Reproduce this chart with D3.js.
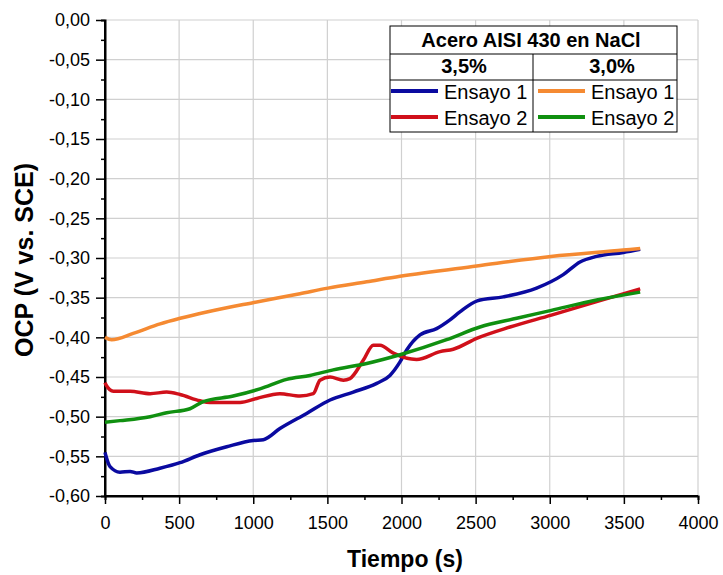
<!DOCTYPE html>
<html>
<head>
<meta charset="utf-8">
<script src="https://cdn.jsdelivr.net/npm/d3@7"></script>
<style>
  body { margin: 0; background: #fff; }
  svg { display: block; font-family: 'Liberation Sans', Arial, sans-serif; }
</style>
</head>
<body>
<div id="chart"></div>
<script>
// time (s) and OCP (V)
let blueT = [0, 7, 34, 101, 169, 214, 371, 506, 641, 821, 1000, 1068, 1180, 1360, 1518, 1675, 1833, 1922, 1990, 2035, 2125, 2237, 2327, 2394, 2511, 2686, 2911, 3091, 3204, 3316, 3496, 3610];
let blueV = [-0.545, -0.550, -0.563, -0.570, -0.569, -0.571, -0.565, -0.558, -0.548, -0.538, -0.530, -0.529, -0.515, -0.496, -0.479, -0.469, -0.458, -0.448, -0.431, -0.416, -0.397, -0.389, -0.378, -0.368, -0.354, -0.349, -0.338, -0.321, -0.305, -0.298, -0.293, -0.289];

let redT = [0, 7, 56, 169, 304, 416, 506, 641, 708, 911, 1023, 1180, 1315, 1405, 1450, 1518, 1608, 1652, 1742, 1810, 1855, 1945, 2102, 2260, 2349, 2511, 2732, 3011, 3316, 3610];
let redV = [-0.457, -0.460, -0.468, -0.468, -0.471, -0.469, -0.472, -0.480, -0.482, -0.482, -0.477, -0.471, -0.474, -0.471, -0.454, -0.450, -0.454, -0.452, -0.429, -0.410, -0.410, -0.420, -0.428, -0.418, -0.415, -0.401, -0.387, -0.372, -0.355, -0.339];

let orangeT = [0, 45, 190, 372, 507, 686, 1005, 1315, 1504, 1765, 1990, 2507, 3008, 3495, 3610];
let orangeV = [-0.400, -0.403, -0.395, -0.383, -0.376, -0.368, -0.356, -0.345, -0.338, -0.330, -0.323, -0.310, -0.298, -0.290, -0.288];

let greenT = [0, 101, 304, 416, 573, 663, 865, 1045, 1225, 1383, 1540, 1765, 1990, 2304, 2529, 2777, 3011, 3316, 3610];
let greenV = [-0.507, -0.505, -0.500, -0.495, -0.490, -0.481, -0.474, -0.465, -0.453, -0.448, -0.441, -0.433, -0.422, -0.403, -0.387, -0.376, -0.366, -0.353, -0.343];

let groups = ['3,5%', '3,0%'];
let seriesNames = ['Ensayo 1', 'Ensayo 2'];
let legendTitle = 'Acero AISI 430 en NaCl';

let series = [
  { t: blueT, v: blueV, color: '#0a0aa0', group: 0, row: 0 },
  { t: redT, v: redV, color: '#d0101a', group: 0, row: 1 },
  { t: orangeT, v: orangeV, color: '#f58a32', group: 1, row: 0 },
  { t: greenT, v: greenV, color: '#109010', group: 1, row: 1 }
];

let w = 723;
let h = 575;
let pLeft = 105, pTop = 20, pRight = 698, pBottom = 496;

let xScale = d3.scaleLinear().domain([0, 4000]).range([pLeft, pRight]);
let yScale = d3.scaleLinear().domain([-0.6, 0]).range([pBottom, pTop]);
let fmtY = (d) => d3.format('.2f')(d).replace('.', ',').replace('−', '-');

let svg = d3.select('#chart').append('svg').attr('width', w).attr('height', h);

// grid
svg.append('g').selectAll('line')
   .data(d3.range(500, 4001, 500))
   .enter().append('line')
   .attr('x1', (d) => xScale(d)).attr('x2', (d) => xScale(d))
   .attr('y1', pTop).attr('y2', pBottom)
   .attr('stroke', '#d0d0d0').attr('stroke-width', 1.2);
svg.append('g').selectAll('line')
   .data(d3.range(-11, 1).map((i) => i * 0.05))
   .enter().append('line')
   .attr('x1', pLeft).attr('x2', pRight)
   .attr('y1', (d) => yScale(d)).attr('y2', (d) => yScale(d))
   .attr('stroke', '#d0d0d0').attr('stroke-width', 1.2);

// minor ticks
let xMinor = d3.axisBottom(xScale).tickValues(d3.range(250, 4000, 500)).tickSize(4).tickFormat('');
let yMinor = d3.axisLeft(yScale).tickValues(d3.range(0, 12).map((i) => -0.025 - i * 0.05)).tickSize(4).tickFormat('');
svg.append('g').attr('transform', 'translate(0,' + pBottom + ')').call(xMinor);
svg.append('g').attr('transform', 'translate(' + pLeft + ',0)').call(yMinor);

let xAxis = d3.axisBottom(xScale).tickValues(d3.range(0, 4001, 500)).tickSize(8).tickPadding(12).tickFormat(d3.format('d'));
let yAxis = d3.axisLeft(yScale).tickValues(d3.range(-12, 1).map((i) => i * 0.05)).tickSize(9).tickPadding(6).tickFormat(fmtY);

let gx = svg.append('g').attr('transform', 'translate(0,' + pBottom + ')').call(xAxis);
let gy = svg.append('g').attr('transform', 'translate(' + pLeft + ',0)').call(yAxis);

svg.selectAll('.domain').attr('stroke', '#000').attr('stroke-width', 2);
svg.selectAll('.tick line').attr('stroke', '#000').attr('stroke-width', 1.5);
svg.selectAll('.tick text').attr('fill', '#000').style('font-size', '18px').style('font-family', "'Liberation Sans', Arial, sans-serif");
gx.select('.domain').attr('d', 'M' + pLeft + ',0H' + pRight);
gy.select('.domain').attr('d', 'M0,' + pBottom + 'V' + pTop);

// curves
let line = d3.line().curve(d3.curveMonotoneX);
svg.append('g').selectAll('path')
   .data(series)
   .enter().append('path')
   .attr('fill', 'none')
   .attr('stroke', (d) => d.color)
   .attr('stroke-width', 3.5)
   .attr('stroke-linejoin', 'round')
   .attr('d', (d) => line(d.t.map((t, i) => [xScale(t), yScale(d.v[i])])));

// axis titles
svg.append('text')
   .attr('x', 405).attr('y', 567)
   .attr('text-anchor', 'middle')
   .style('font-size', '23px').style('font-weight', 'bold')
   .text('Tiempo (s)');
svg.append('text')
   .attr('transform', 'translate(33,260) rotate(-90)')
   .attr('text-anchor', 'middle')
   .style('font-size', '25px').style('font-weight', 'bold')
   .text('OCP (V vs. SCE)');

// legend table
let lg = svg.append('g').attr('id', 'legend');
let lx = 390, lw = 287, ly = 26, colDiv = 533;
lg.append('rect').attr('x', lx).attr('y', ly).attr('width', lw).attr('height', 106)
  .attr('fill', '#fff').attr('stroke', '#000').attr('stroke-width', 1);
lg.append('line').attr('x1', lx).attr('x2', lx + lw).attr('y1', 54).attr('y2', 54).attr('stroke', '#000');
lg.append('line').attr('x1', lx).attr('x2', lx + lw).attr('y1', 80).attr('y2', 80).attr('stroke', '#000');
lg.append('line').attr('x1', colDiv).attr('x2', colDiv).attr('y1', 54).attr('y2', 132).attr('stroke', '#000');
lg.append('text').attr('x', 531).attr('y', 47).attr('text-anchor', 'middle')
  .style('font-size', '20px').style('font-weight', 'bold').text(legendTitle);
lg.selectAll('text.grp').data(groups).enter().append('text')
  .attr('class', 'grp')
  .attr('x', (d, i) => i === 0 ? 464 : 612)
  .attr('y', 73).attr('text-anchor', 'middle')
  .style('font-size', '20px').style('font-weight', 'bold').text((d) => d);
series.forEach((s) => {
  let x0 = s.group === 0 ? lx + 1 : 538;
  let yy = 91 + s.row * 26;
  lg.append('line').attr('x1', x0).attr('x2', x0 + 47).attr('y1', yy).attr('y2', yy)
    .attr('stroke', s.color).attr('stroke-width', 4);
  lg.append('text').attr('x', x0 + 53).attr('y', yy + 8)
    .style('font-size', '20px').text(seriesNames[s.row]);
});
</script>
</body>
</html>
